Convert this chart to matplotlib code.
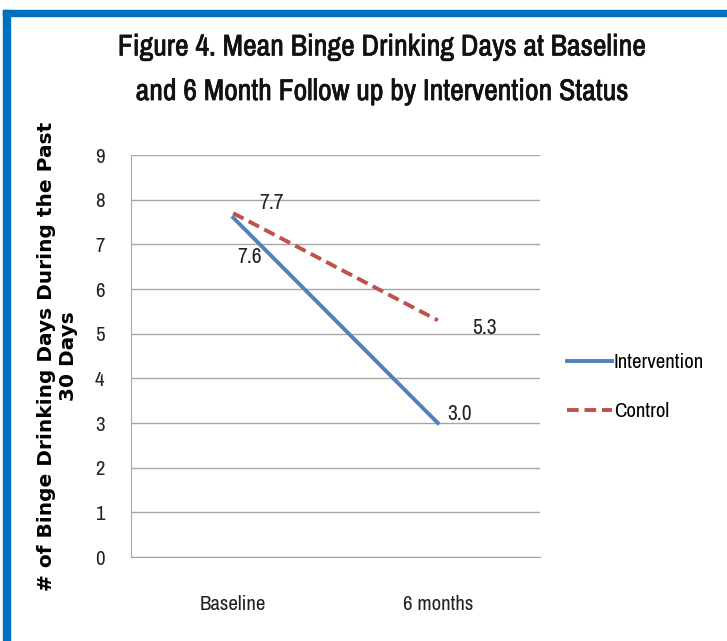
import matplotlib
matplotlib.use('Agg')
from matplotlib import pyplot as plt
from matplotlib import font_manager
from matplotlib import patheffects
from matplotlib.patches import Rectangle

# data
timepoints = ['Baseline', '6 months']
intervention = [7.6, 3.0]
control = [7.7, 5.3]
# nudges for the value labels, in points (dx, dy)
intervention_offsets = [(3, -33), (6.5, 2)]
control_offsets = [(19, 3), (25, -10)]

# look for a condensed face (closest thing to Calibri we have)
names = sorted(set(f.name for f in font_manager.fontManager.ttflist))
narrow_names = [n for n in names if 'Narrow' in n or 'Condensed' in n]
narrow = narrow_names[:1] + ['Roboto', 'DejaVu Sans']

fig = plt.figure(figsize=(7.27, 6.41), dpi=100)

# blue frame on top and left side
fig.patches.append(Rectangle((3/727., 1 - 16/641.), 1 - 3/727., 6/641.,
                             transform=fig.transFigure, color='#0070C0', zorder=0))
fig.patches.append(Rectangle((3/727., 0), 7/727., 1 - 10/641.,
                             transform=fig.transFigure, color='#0070C0', zorder=0))

ax = fig.add_axes([0.180, 0.131, 0.563, 0.627])
x = list(range(len(timepoints)))

ax.plot(x, intervention, color='#4F81BD', lw=2.8, label='Intervention')
ax.plot(x, control, color='#C0504D', lw=2.8, ls=(0, (3.0, 1.5)), label='Control')

for i in x:
    ax.annotate('%.1f' % intervention[i], (i, intervention[i]),
                xytext=intervention_offsets[i], textcoords='offset points',
                fontsize=15.5, family=narrow, color='#222222')
    ax.annotate('%.1f' % control[i], (i, control[i]),
                xytext=control_offsets[i], textcoords='offset points',
                fontsize=15.5, family=narrow, color='#222222')

ax.set_xlim(-0.5, 1.5)
ax.set_ylim(0, 9)
ax.set_yticks(range(10))
ax.set_xticks(x)
ax.set_xticklabels(timepoints)
ax.tick_params(length=0, labelsize=15, colors='#222222')
ax.tick_params(axis='y', pad=19)
ax.tick_params(axis='x', pad=27)
for lab in ax.get_xticklabels() + ax.get_yticklabels():
    lab.set_family(narrow)
ax.grid(axis='y', color='#A6A6A6', lw=1)
ax.set_axisbelow(True)
for s in ['top', 'right']:
    ax.spines[s].set_visible(False)
for s in ['left', 'bottom']:
    ax.spines[s].set_color('#A6A6A6')

ax.set_ylabel('# of Binge Drinking Days During the Past\n30 Days',
              fontsize=14.5, fontweight='bold', labelpad=12, linespacing=1.2)

title = fig.text(0.525, 0.892,
                 'Figure 4. Mean Binge Drinking Days at Baseline\nand 6 Month Follow up by Intervention Status',
                 ha='center', va='center', fontsize=21.5, family=narrow, fontweight='bold',
                 linespacing=1.8, color='#111111')
# the narrow face has no bold, so thicken it a little
title.set_path_effects([patheffects.withStroke(linewidth=0.5, foreground='#111111')])

leg = ax.legend(loc='center left', bbox_to_anchor=(1.02, 0.423), frameon=False,
                prop={'family': narrow, 'size': 15}, handlelength=2.15,
                handletextpad=0.1, labelspacing=1.45)

plt.savefig('out.png', dpi=100)
plt.close()
